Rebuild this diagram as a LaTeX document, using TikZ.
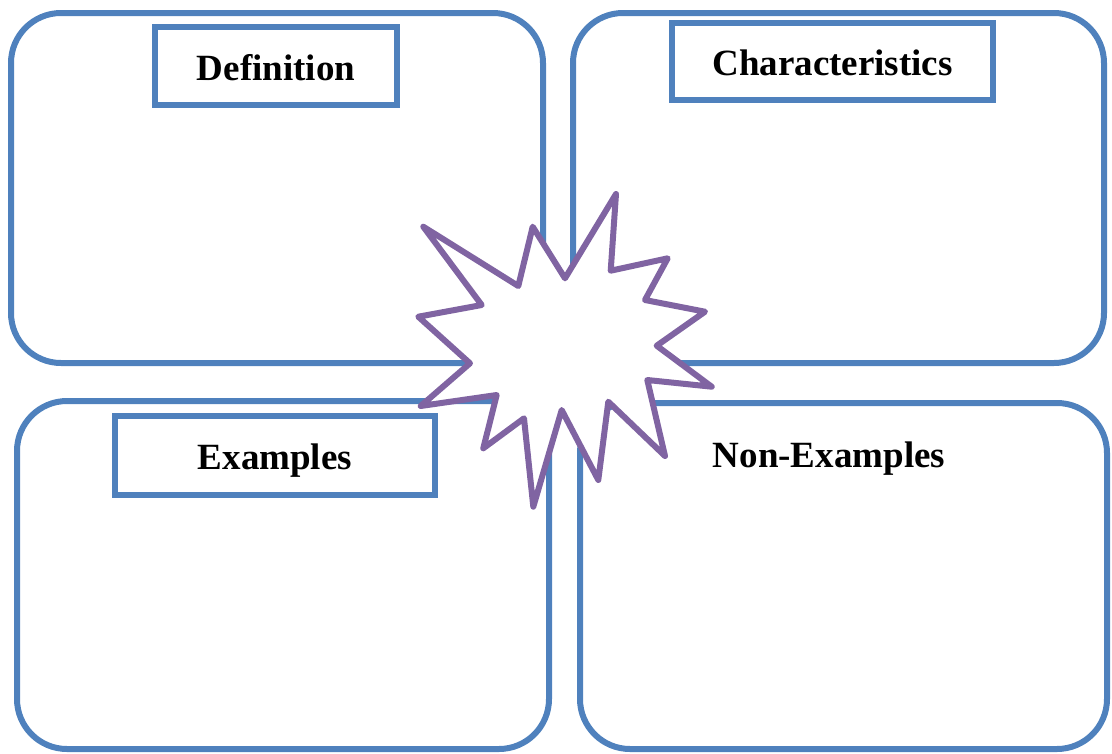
\documentclass[tikz,border=0pt]{standalone}
\usepackage{fontspec}
\setmainfont{Liberation Serif}
\definecolor{boxblue}{HTML}{4F81BD}
\definecolor{starpurple}{HTML}{8064A2}
\begin{document}
\begin{tikzpicture}[x=1pt,y=-1pt,
  bigbox/.style={draw=boxblue,line width=6pt,rounded corners=50pt,rectangle,inner sep=0pt},
  labelbox/.style={draw=boxblue,line width=6pt,rectangle,inner sep=0pt,
    font=\fontsize{37}{44}\selectfont\bfseries,text height=28pt,text depth=0pt},
  plainlabel/.style={inner sep=0pt,
    font=\fontsize{37}{44}\selectfont\bfseries,text height=28pt,text depth=0pt},
  burst/.style={draw=starpurple,fill=white,line width=6pt,line join=round}]
\useasboundingbox (0,0) rectangle (1112,753);
% quadrants
\node[bigbox,minimum width=532pt,minimum height=350pt] (tl) at (277,188) {};
\node[bigbox,minimum width=531pt,minimum height=350pt] (tr) at (838.5,188) {};
\node[bigbox,minimum width=532pt,minimum height=348pt] (bl) at (283,575) {};
\node[bigbox,minimum width=527pt,minimum height=346pt] (br) at (843.5,576) {};
% labels
\node[labelbox,minimum width=242pt,minimum height=78pt] (def) at (276,66) {Definition};
\node[labelbox,minimum width=321pt,minimum height=77pt] (char) at (832.5,61.5) {Characteristics};
\node[labelbox,minimum width=320pt,minimum height=79pt] (ex) at (275,455.5) {Examples};
\node[plainlabel] (nonex) at (829,453) {Non-Examples};
% starburst
\draw[burst] (423.3,226.7) -- (518.3,286) -- (532.7,226.7) -- (565,278.3)
  -- (616,194) -- (610.7,270.7) -- (667.7,258.3) -- (645,300)
  -- (705,311.7) -- (656.7,345.7) -- (711.7,386.7) -- (647.3,380)
  -- (665,456) -- (608.3,401.7) -- (598.3,480) -- (561.7,410)
  -- (533.3,506.7) -- (524,418.3) -- (483.3,448.3) -- (496.7,395)
  -- (420.7,406) -- (470,363.3) -- (418.3,316.7) -- (481.7,305) -- cycle;
\end{tikzpicture}
\end{document}
